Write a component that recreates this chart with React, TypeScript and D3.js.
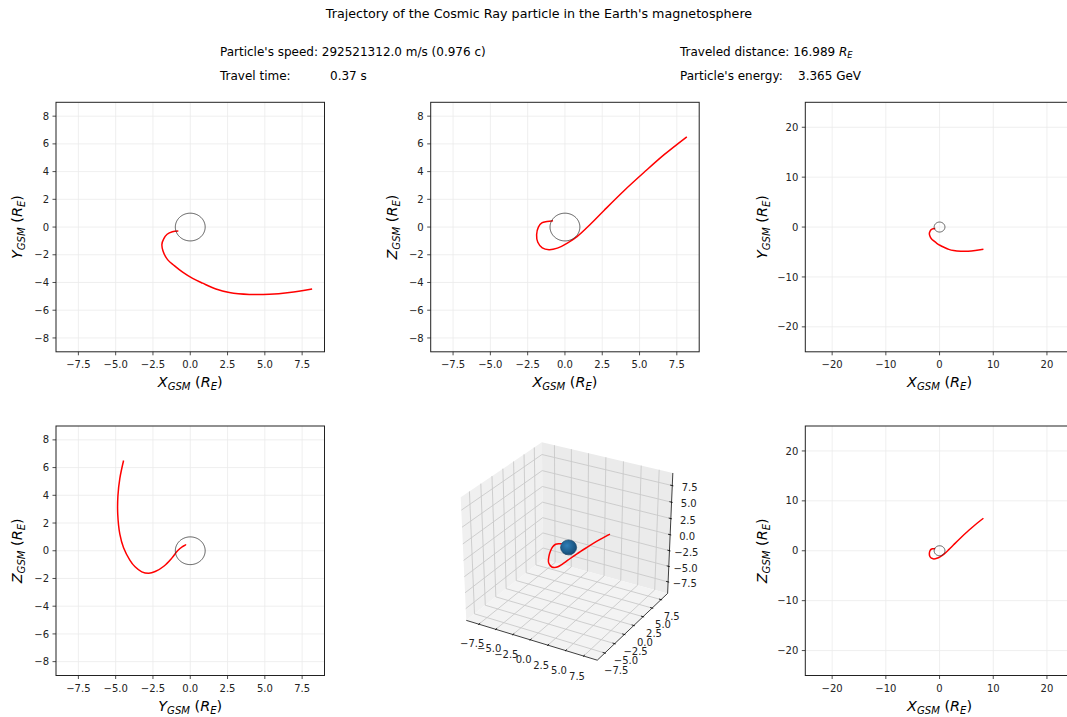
import React from 'react';
import * as d3 from 'd3';

const WIDTH = 1067;
const HEIGHT = 717;
const FONT = 'DejaVu Sans, sans-serif';

const titleText = "Trajectory of the Cosmic Ray particle in the Earth's magnetosphere";
const speedText = "Particle's speed: 292521312.0 m/s (0.976 c)";
const timeLabel = 'Travel time:';
const timeValue = '0.37 s';
const distanceText = 'Traveled distance: 16.989 ';
const energyLabel = "Particle's energy:";
const energyValue = '3.365 GeV';

// trajectory in GSM coordinates (Earth radii)
const trajX = [-0.8, -1.2, -1.55, -1.78, -1.9, -1.82, -1.52, -1.07, -0.51, 0.16, 0.83, 1.72, 2.62, 3.96, 5.31, 6.65, 8.17];
const trajY = [-0.29, -0.34, -0.52, -0.85, -1.25, -1.75, -2.35, -2.78, -3.25, -3.7, -4.05, -4.47, -4.72, -4.86, -4.85, -4.72, -4.47];
const trajZ = [0.46, 0.4, 0.3, 0.0, -0.55, -1.1, -1.5, -1.63, -1.52, -1.16, -0.67, 0.22, 1.2, 2.62, 3.95, 5.22, 6.51];

const EARTH_R = 1;

const nearTicksX = [-7.5, -5, -2.5, 0, 2.5, 5, 7.5];
const nearTicksY = [-8, -6, -4, -2, 0, 2, 4, 6, 8];
const farTicks = [-20, -10, 0, 10, 20];
const cubeTicks = [-7.5, -5, -2.5, 0, 2.5, 5, 7.5];

const NEAR_LIM = 9;
const FAR_LIM = 25;
const CUBE_LIM = 9;

const COLS = [56, 430.7, 805.3];
const ROWS = [102.3, 426];
const PW = 268.5;
const PH = 249.5;

const LABEL_FS = 14.4;
const TICK_FS = 10;

const fmt1 = d3.format('.1f');
const fmt0 = d3.format('d');

const AxisName = ({ name }: { name: string }) => {
  const sub = LABEL_FS * 0.22;
  return (
    <>
      <tspan fontStyle="italic">{name}</tspan>
      <tspan fontStyle="italic" fontSize={LABEL_FS * 0.7} dy={sub}>GSM</tspan>
      <tspan dy={-sub}> (</tspan>
      <tspan fontStyle="italic">R</tspan>
      <tspan fontStyle="italic" fontSize={LABEL_FS * 0.7} dy={sub}>E</tspan>
      <tspan dy={-sub}>)</tspan>
    </>
  );
};

type PanelProps = {
  left: number;
  top: number;
  lim: number;
  xTicks: number[];
  yTicks: number[];
  fmtX: (n: number) => string;
  fmtY: (n: number) => string;
  xs: number[];
  ys: number[];
  xName: string;
  yName: string;
  yGap: number;
};

const Panel = ({ left, top, lim, xTicks, yTicks, fmtX, fmtY, xs, ys, xName, yName, yGap }: PanelProps) => {
  const x = d3.scaleLinear().domain([-lim, lim]).range([left, left + PW]);
  const y = d3.scaleLinear().domain([-lim, lim]).range([top + PH, top]);
  const bottom = top + PH;
  const line = d3
    .line<number>()
    .x((_, i) => x(xs[i]))
    .y((_, i) => y(ys[i]))
    .curve(d3.curveCatmullRom.alpha(0.5));
  const earth = d3
    .line<number>()
    .x((a) => x(EARTH_R * Math.cos(a)))
    .y((a) => y(EARTH_R * Math.sin(a)))
    .curve(d3.curveLinearClosed);
  const angles = d3.range(0, 2 * Math.PI, Math.PI / 60);
  return (
    <g>
      {xTicks.map((t) => (
        <line key={'gx' + t} x1={x(t)} x2={x(t)} y1={top} y2={bottom} stroke="#ebebeb" strokeWidth={0.8} />
      ))}
      {yTicks.map((t) => (
        <line key={'gy' + t} x1={left} x2={left + PW} y1={y(t)} y2={y(t)} stroke="#ebebeb" strokeWidth={0.8} />
      ))}
      <path d={line(xs) || ''} fill="none" stroke="#ff0000" strokeWidth={1.5} />
      <path d={earth(angles) || ''} fill="none" stroke="#333" strokeWidth={0.8} />
      <rect x={left} y={top} width={PW} height={PH} fill="none" stroke="#222" strokeWidth={1} />
      {xTicks.map((t) => (
        <g key={'tx' + t}>
          <line x1={x(t)} x2={x(t)} y1={bottom} y2={bottom + 3.5} stroke="#222" strokeWidth={0.8} />
          <text x={x(t)} y={bottom + 16.5} textAnchor="middle" fontSize={TICK_FS} fill="#222">
            {fmtX(t)}
          </text>
        </g>
      ))}
      {yTicks.map((t) => (
        <g key={'ty' + t}>
          <line x1={left - 3.5} x2={left} y1={y(t)} y2={y(t)} stroke="#222" strokeWidth={0.8} />
          <text x={left - 7} y={y(t) + 3.6} textAnchor="end" fontSize={TICK_FS} fill="#222">
            {fmtY(t)}
          </text>
        </g>
      ))}
      <text x={left + PW / 2} y={bottom + 35} textAnchor="middle" fontSize={LABEL_FS} fill="#000">
        <AxisName name={xName} />
      </text>
      <text
        transform={`translate(${left - yGap + 5},${top + PH / 2}) rotate(-90)`}
        textAnchor="middle"
        fontSize={LABEL_FS}
        fill="#000">
        <AxisName name={yName} />
      </text>
    </g>
  );
};

type V3 = [number, number, number];
const dot = (a: number[], b: number[]) => a[0] * b[0] + a[1] * b[1] + a[2] * b[2];
const cross = (a: number[], b: number[]) => [
  a[1] * b[2] - a[2] * b[1],
  a[2] * b[0] - a[0] * b[2],
  a[0] * b[1] - a[1] * b[0],
];
const unit = (a: number[]) => {
  const l = Math.hypot(a[0], a[1], a[2]);
  return a.map((d) => d / l);
};

const Cube = ({ left, top }: { left: number; top: number }) => {
  const elev = (30 * Math.PI) / 180;
  const azim = (-60 * Math.PI) / 180;
  const dist = 10;
  const n = [Math.cos(azim) * Math.cos(elev), Math.sin(azim) * Math.cos(elev), Math.sin(elev)];
  const u = unit(cross([0, 0, 1], n));
  const v = cross(n, u);
  const toBox = d3.scaleLinear().domain([-CUBE_LIM, CUBE_LIM]).range([-0.5, 0.5]);
  const sx = d3.scaleLinear().domain([-0.095, 0.09]).range([left, left + PW]);
  const sy = d3.scaleLinear().domain([-0.095, 0.09]).range([top + PH, top]);
  const proj = (p: V3): [number, number] => {
    const q = [toBox(p[0]), toBox(p[1]), toBox(p[2])];
    const w = dist - dot(n, q);
    return [sx(dot(u, q) / w), sy(dot(v, q) / w)];
  };
  const poly = (pts: V3[]) => pts.map((p) => proj(p).join(',')).join(' ');
  const seg = (a: V3, b: V3, key: string, stroke: string, sw: number) => {
    const [x1, y1] = proj(a);
    const [x2, y2] = proj(b);
    return <line key={key} x1={x1} y1={y1} x2={x2} y2={y2} stroke={stroke} strokeWidth={sw} />;
  };

  const span = 2 * CUBE_LIM;
  const pad = span / 48;
  const lo = -CUBE_LIM - pad;
  const hi = CUBE_LIM + pad;
  const tickDelta = span / 12;
  const labelDelta = (3.5 + 8) * (48 / (PW + PH)) * tickDelta;
  const gridColor = '#c9c9c9';

  const path = d3
    .line<number>()
    .x((_, i) => proj([trajX[i], trajY[i], trajZ[i]])[0])
    .y((_, i) => proj([trajX[i], trajY[i], trajZ[i]])[1])
    .curve(d3.curveCatmullRom.alpha(0.5));

  const [cx, cy] = proj([0, 0, 0]);
  const rx = sx((EARTH_R / span) / dist) - sx(0);
  const ry = sy(0) - sy((EARTH_R / span) / dist);

  return (
    <g>
      <defs>
        <radialGradient id="earthFill" cx="40%" cy="38%" r="70%">
          <stop offset="0%" stopColor="#2f7fb8" />
          <stop offset="100%" stopColor="#12466f" />
        </radialGradient>
      </defs>
      <polygon points={poly([[lo, lo, lo], [lo, hi, lo], [lo, hi, hi], [lo, lo, hi]])} fill="#f0f0f0" />
      <polygon points={poly([[lo, hi, lo], [hi, hi, lo], [hi, hi, hi], [lo, hi, hi]])} fill="#ebebeb" />
      <polygon points={poly([[lo, lo, lo], [hi, lo, lo], [hi, hi, lo], [lo, hi, lo]])} fill="#f3f3f3" />
      {cubeTicks.map((t) => (
        <g key={'g' + t}>
          {seg([t, lo, lo], [t, hi, lo], 'gx1' + t, gridColor, 0.9)}
          {seg([t, hi, lo], [t, hi, hi], 'gx2' + t, gridColor, 0.9)}
          {seg([hi, t, lo], [lo, t, lo], 'gy1' + t, gridColor, 0.9)}
          {seg([lo, t, lo], [lo, t, hi], 'gy2' + t, gridColor, 0.9)}
          {seg([lo, lo, t], [lo, hi, t], 'gz1' + t, gridColor, 0.9)}
          {seg([lo, hi, t], [hi, hi, t], 'gz2' + t, gridColor, 0.9)}
        </g>
      ))}
      {seg([lo, lo, lo], [hi, lo, lo], 'ax', '#000', 0.75)}
      {seg([hi, lo, lo], [hi, hi, lo], 'ay', '#000', 0.75)}
      {seg([hi, hi, lo], [hi, hi, hi], 'az', '#000', 0.75)}
      {cubeTicks.map((t) => {
        const lx = proj([t, lo - labelDelta, lo - labelDelta]);
        const ly = proj([hi + labelDelta, t, lo - labelDelta]);
        const lz = proj([hi + labelDelta, hi + labelDelta, t]);
        return (
          <g key={'t' + t}>
            {seg([t, lo - 0.1 * tickDelta, lo], [t, lo + 0.2 * tickDelta, lo], 'tx' + t, '#000', 0.8)}
            {seg([hi + 0.1 * tickDelta, t, lo], [hi - 0.2 * tickDelta, t, lo], 'ty' + t, '#000', 0.8)}
            {seg([hi + 0.1 * tickDelta, hi, t], [hi - 0.2 * tickDelta, hi, t], 'tz' + t, '#000', 0.8)}
            <text x={lx[0]} y={lx[1] + 7.3} textAnchor="middle" fontSize={TICK_FS} fill="#222">{fmt1(t)}</text>
            <text x={ly[0]} y={ly[1] + 7.3} textAnchor="middle" fontSize={TICK_FS} fill="#222">{fmt1(t)}</text>
            <text x={lz[0]} y={lz[1] + 7.3} textAnchor="middle" fontSize={TICK_FS} fill="#222">{fmt1(t)}</text>
          </g>
        );
      })}
      <path d={path(trajX) || ''} fill="none" stroke="#ff0000" strokeWidth={1.5} />
      <ellipse cx={cx} cy={cy} rx={rx} ry={ry} fill="url(#earthFill)" stroke="#143f63" strokeWidth={0.6} />
    </g>
  );
};

const App = () => {
  return (
    <svg
      width={WIDTH}
      height={HEIGHT}
      style={{ position: 'absolute', left: 0, top: 0, background: '#fff' }}
      fontFamily={FONT}>
      <rect width={WIDTH} height={HEIGHT} fill="#fff" />
      <text x={539} y={17.5} textAnchor="middle" fontSize={12.7} fill="#000">{titleText}</text>
      <text x={220} y={55.5} fontSize={12} fill="#000">{speedText}</text>
      <text x={220} y={79.5} fontSize={12} fill="#000">{timeLabel}</text>
      <text x={330} y={79.5} fontSize={12} fill="#000">{timeValue}</text>
      <text x={680} y={55.5} fontSize={12} fill="#000">
        {distanceText}
        <tspan fontStyle="italic">R</tspan>
        <tspan fontStyle="italic" fontSize={8.4} dy={2.6}>E</tspan>
      </text>
      <text x={680} y={79.5} fontSize={12} fill="#000">{energyLabel}</text>
      <text x={798} y={79.5} fontSize={12} fill="#000">{energyValue}</text>

      <Panel left={COLS[0]} top={ROWS[0]} lim={NEAR_LIM} xTicks={nearTicksX} yTicks={nearTicksY}
        fmtX={fmt1} fmtY={fmt0} xs={trajX} ys={trajY} xName="X" yName="Y" yGap={39} />
      <Panel left={COLS[1]} top={ROWS[0]} lim={NEAR_LIM} xTicks={nearTicksX} yTicks={nearTicksY}
        fmtX={fmt1} fmtY={fmt0} xs={trajX} ys={trajZ} xName="X" yName="Z" yGap={39} />
      <Panel left={COLS[2]} top={ROWS[0]} lim={FAR_LIM} xTicks={farTicks} yTicks={farTicks}
        fmtX={fmt0} fmtY={fmt0} xs={trajX} ys={trajY} xName="X" yName="Y" yGap={43} />
      <Panel left={COLS[0]} top={ROWS[1]} lim={NEAR_LIM} xTicks={nearTicksX} yTicks={nearTicksY}
        fmtX={fmt1} fmtY={fmt0} xs={trajY} ys={trajZ} xName="Y" yName="Z" yGap={39} />
      <Cube left={COLS[1]} top={ROWS[1]} />
      <Panel left={COLS[2]} top={ROWS[1]} lim={FAR_LIM} xTicks={farTicks} yTicks={farTicks}
        fmtX={fmt0} fmtY={fmt0} xs={trajX} ys={trajZ} xName="X" yName="Z" yGap={43} />
    </svg>
  );
};

export default App;
